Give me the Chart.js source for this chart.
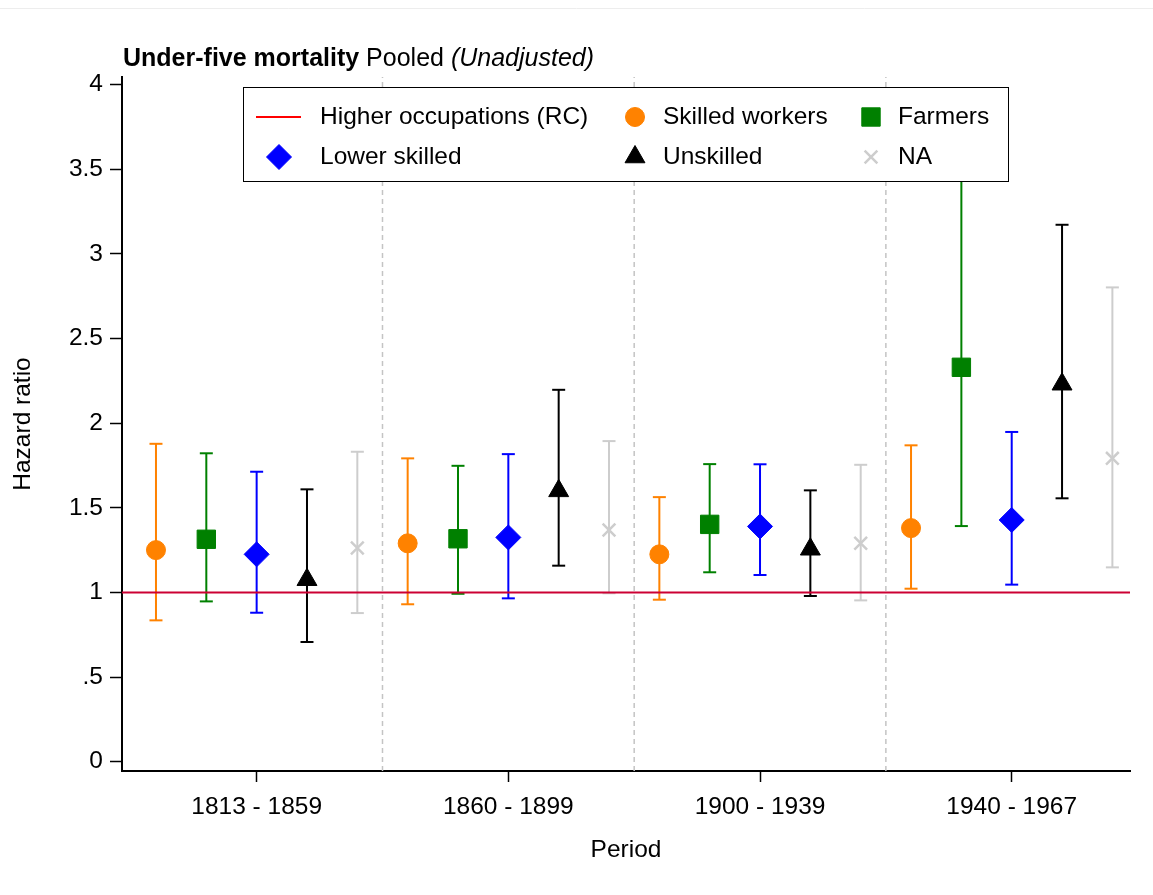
<!DOCTYPE html>
<html lang="en">
<head>
  <meta charset="UTF-8">
  <title>Under-five mortality - Pooled (Unadjusted)</title>
  <script src="https://cdn.jsdelivr.net/npm/chart.js"></script>
  <style>
    body {
      margin: 0;
      background: #fff;
    }
    #wrap {
      width: 1153px;
      height: 895px;
      position: relative;
    }
  </style>
</head>
<body>
  <div id="wrap">
    <canvas id="hazard"></canvas>
  </div>

  <script>
    // ---- data ----
    const periods = ['1813 - 1859', '1860 - 1899', '1900 - 1939', '1940 - 1967'];
    const yTicks = [0, 0.5, 1, 1.5, 2, 2.5, 3, 3.5, 4];
    const yTickLabels = ['0', '.5', '1', '1.5', '2', '2.5', '3', '3.5', '4'];
    const separators = [0.5, 1.5, 2.5];
    const refValue = 1;

    const skilledHR = [1.25, 1.29, 1.225, 1.38];
    const skilledLo = [0.835, 0.93, 0.957, 1.022];
    const skilledHi = [1.878, 1.792, 1.563, 1.869];

    const farmersHR = [1.314, 1.317, 1.402, 2.33];
    const farmersLo = [0.947, 0.992, 1.119, 1.392];
    const farmersHi = [1.822, 1.748, 1.758, 3.9];

    const lowerHR = [1.225, 1.325, 1.39, 1.428];
    const lowerLo = [0.88, 0.965, 1.103, 1.046];
    const lowerHi = [1.713, 1.817, 1.757, 1.948];

    const unskilledHR = [1.075, 1.6, 1.255, 2.23];
    const unskilledLo = [0.707, 1.158, 0.979, 1.556];
    const unskilledHi = [1.609, 2.197, 1.603, 3.172];

    const naHR = [1.262, 1.369, 1.29, 1.792];
    const naLo = [0.878, 0.995, 0.953, 1.148];
    const naHi = [1.831, 1.894, 1.754, 2.802];

    // ---- styling ----
    const FONT = '"Liberation Sans", Arial, sans-serif';
    const TXT = 24.5;
    const refColor = '#cc0033';
    const refLegendColor = '#ff0000';

    const series = [
      { label: 'Skilled workers', hr: skilledHR, lo: skilledLo, hi: skilledHi, offset: -0.4, color: '#ff8200', style: 'circle', radius: 9.5, lw: 1 },
      { label: 'Farmers', hr: farmersHR, lo: farmersLo, hi: farmersHi, offset: -0.2, color: '#008000', style: 'rect', radius: 13, lw: 1 },
      { label: 'Lower skilled', hr: lowerHR, lo: lowerLo, hi: lowerHi, offset: 0, color: '#0000ff', style: 'rectRot', radius: 12.5, lw: 1 },
      { label: 'Unskilled', hr: unskilledHR, lo: unskilledLo, hi: unskilledHi, offset: 0.2, color: '#000000', style: 'triangle', radius: 11.5, lw: 1 },
      { label: 'NA', hr: naHR, lo: naLo, hi: naHi, offset: 0.4, color: '#cdcdcd', style: 'crossRot', radius: 9, lw: 2.5 }
    ];

    const xMin = -0.535, xMax = 3.47;
    const yMin = -0.055, yMax = 4.045;

    const datasets = [];

    // markers (drawn on top)
    series.forEach(s => {
      datasets.push({
        type: 'line',
        label: s.label,
        data: s.hr.map((v, i) => ({ x: i + s.offset, y: v })),
        showLine: false,
        pointStyle: s.style,
        pointRadius: s.radius,
        pointBackgroundColor: s.color,
        pointBorderColor: s.color,
        pointBorderWidth: s.lw,
        order: 1
      });
    });

    // reference line
    datasets.push({
      type: 'line',
      label: 'Higher occupations (RC)',
      data: [{ x: xMin, y: refValue }, { x: xMax, y: refValue }],
      borderColor: refColor,
      borderWidth: 2,
      pointRadius: 0,
      order: 2
    });

    // confidence intervals with caps
    series.forEach(s => {
      const pts = [];
      s.lo.forEach((lo, i) => {
        const x = i + s.offset;
        pts.push({ x: x, y: lo }, { x: x, y: s.hi[i] }, { x: x, y: null });
      });
      datasets.push({
        type: 'line',
        label: s.label + ' CI',
        data: pts,
        borderColor: s.color,
        borderWidth: 2,
        spanGaps: false,
        pointStyle: 'line',
        pointRadius: 6.5,
        pointBorderWidth: 2,
        pointBorderColor: s.color,
        order: 3
      });
    });

    // dashed period separators
    const sepPts = [];
    separators.forEach(x => sepPts.push({ x: x, y: yMin }, { x: x, y: yMax }, { x: x, y: null }));
    datasets.push({
      type: 'line',
      label: 'sep',
      data: sepPts,
      borderColor: '#c4c4c4',
      borderWidth: 1.5,
      borderDash: [5, 4],
      spanGaps: false,
      pointRadius: 0,
      order: 4
    });

    function drawSymbol(ctx, style, radius, x, y, color, lw) {
      ctx.fillStyle = color;
      ctx.strokeStyle = color;
      ctx.lineWidth = lw;
      Chart.helpers.drawPoint(ctx, { pointStyle: style, radius: radius, rotation: 0, borderWidth: lw }, x, y);
    }

    const overlay = {
      id: 'overlay',
      afterDraw(chart) {
        const ctx = chart.ctx;
        ctx.save();

        // faint outer frame line at the top
        ctx.strokeStyle = '#ededed';
        ctx.lineWidth = 1;
        ctx.beginPath();
        ctx.moveTo(0, 8.5);
        ctx.lineTo(chart.width, 8.5);
        ctx.stroke();

        // title with mixed styles
        let tx = 123;
        ctx.fillStyle = '#000';
        ctx.textBaseline = 'alphabetic';
        ctx.textAlign = 'left';
        [['bold ', 'Under-five mortality '], ['', 'Pooled '], ['italic ', '(Unadjusted)']].forEach(p => {
          ctx.font = p[0] + '25px ' + FONT;
          ctx.fillText(p[1], tx, 66);
          tx += ctx.measureText(p[1]).width;
        });

        // legend box
        ctx.fillStyle = '#fff';
        ctx.fillRect(243, 87, 765, 95);
        ctx.strokeStyle = '#000';
        ctx.lineWidth = 1;
        ctx.strokeRect(243.5, 87.5, 765, 94);

        const symX = [279, 635, 871];
        const textX = [320, 663, 898];
        const rowY = [117, 157];
        const items = [{ label: 'Higher occupations (RC)', line: true }].concat(series);
        items.forEach((it, i) => {
          const col = i % 3, row = Math.floor(i / 3);
          const cx = symX[col], cy = rowY[row];
          if (it.line) {
            ctx.strokeStyle = refLegendColor;
            ctx.lineWidth = 2;
            ctx.beginPath();
            ctx.moveTo(cx - 23, cy);
            ctx.lineTo(cx + 22, cy);
            ctx.stroke();
          } else {
            drawSymbol(ctx, it.style, it.radius, cx, cy, it.color, it.lw);
          }
          ctx.fillStyle = '#000';
          ctx.font = TXT + 'px ' + FONT;
          ctx.textBaseline = 'middle';
          ctx.fillText(it.label, textX[col], cy);
        });

        ctx.restore();
      }
    };

    new Chart(document.getElementById('hazard'), {
      type: 'line',
      data: { datasets: datasets },
      plugins: [overlay],
      options: {
        responsive: true,
        maintainAspectRatio: false,
        animation: false,
        layout: { padding: { left: 0, right: 23, top: 77, bottom: 0 } },
        plugins: {
          legend: { display: false },
          title: { display: false },
          tooltip: { enabled: false }
        },
        scales: {
          x: {
            type: 'linear',
            min: xMin,
            max: xMax,
            afterBuildTicks: scale => { scale.ticks = periods.map((p, i) => ({ value: i })); },
            afterFit: scale => { scale.height = 124; },
            ticks: {
              callback: v => periods[v],
              color: '#000',
              font: { family: FONT, size: TXT },
              padding: 11,
              maxRotation: 0,
              autoSkip: false
            },
            grid: {
              drawOnChartArea: false,
              drawTicks: true,
              tickLength: 11,
              tickColor: '#000',
              tickWidth: 1.5
            },
            border: { display: true, color: '#000', width: 2 },
            title: {
              display: true,
              text: 'Period',
              color: '#000',
              font: { family: FONT, size: TXT },
              padding: { top: 0, bottom: 30 }
            }
          },
          y: {
            type: 'linear',
            min: yMin,
            max: yMax,
            afterBuildTicks: scale => { scale.ticks = yTicks.map(v => ({ value: v })); },
            afterFit: scale => { scale.width = 122; },
            ticks: {
              callback: v => yTickLabels[yTicks.indexOf(v)],
              color: '#000',
              font: { family: FONT, size: TXT },
              padding: 7,
              autoSkip: false
            },
            grid: {
              drawOnChartArea: false,
              drawTicks: true,
              tickLength: 12,
              tickColor: '#000',
              tickWidth: 1.5
            },
            border: { display: true, color: '#000', width: 2 },
            title: {
              display: true,
              text: 'Hazard ratio',
              color: '#000',
              font: { family: FONT, size: TXT },
              padding: { top: 9, bottom: 0 }
            }
          }
        }
      }
    });
  </script>
</body>
</html>
